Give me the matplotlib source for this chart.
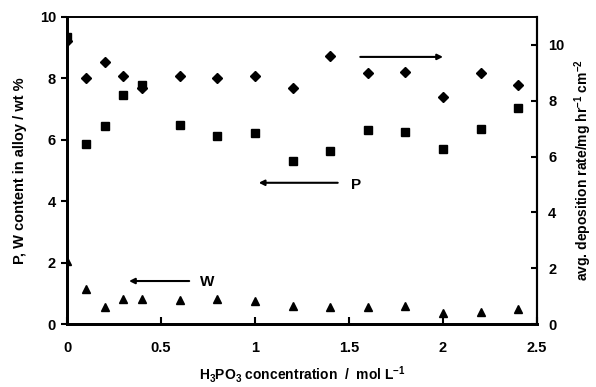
import matplotlib
matplotlib.use("Agg")
import matplotlib.pyplot as plt

plt.rcParams['font.family'] = ['Liberation Sans', 'DejaVu Sans']
plt.rcParams['font.weight'] = 'bold'
plt.rcParams['mathtext.fontset'] = 'custom'
plt.rcParams['mathtext.rm'] = 'Liberation Sans:bold'
plt.rcParams['mathtext.it'] = 'Liberation Sans:bold'
plt.rcParams['mathtext.bf'] = 'Liberation Sans:bold'

conc = [0, 0.1, 0.2, 0.3, 0.4, 0.6, 0.8, 1.0, 1.2, 1.4, 1.6, 1.8, 2.0, 2.2, 2.4]
p_content = [9.35, 5.86, 6.45, 7.45, 7.78, 6.48, 6.13, 6.22, 5.31, 5.63, 6.32, 6.27, 5.70, 6.35, 7.05]
w_content = [2.05, 1.14, 0.55, 0.81, 0.80, 0.78, 0.83, 0.75, 0.58, 0.55, 0.57, 0.59, 0.37, 0.38, 0.48]
dep_rate = [10.15, 8.83, 9.37, 8.90, 8.47, 8.90, 8.80, 8.87, 8.47, 9.62, 9.01, 9.03, 8.15, 8.98, 8.55]

xticks = [0, 0.5, 1, 1.5, 2, 2.5]
xtick_labels = ['0', '0.5', '1', '1.5', '2', '2.5']
left_ticks = [0, 2, 4, 6, 8, 10]
right_ticks = [0, 2, 4, 6, 8, 10]

fig = plt.figure(figsize=(5.96, 3.87), dpi=100)
ax = fig.add_axes([67/596, 1-324/387, (537-67)/596, (324-17)/387])
ax2 = ax.twinx()

ax.plot(conc, p_content, 's', color='black', markersize=6, zorder=3)
ax.plot(conc, w_content, '^', color='black', markersize=6, zorder=3)
ax2.plot(conc, dep_rate, 'D', color='black', markersize=4.8, zorder=3)

ax.set_xlim(0, 2.5)
ax.set_ylim(0, 10)
ax2.set_ylim(0, 11)
ax.set_xticks(xticks)
ax.set_xticklabels(xtick_labels)
ax.set_yticks(left_ticks)
ax2.set_yticks(right_ticks)

for a in (ax, ax2):
    a.tick_params(labelsize=10.5)
    for lab in a.get_xticklabels() + a.get_yticklabels():
        lab.set_fontweight('bold')

ax.tick_params(axis='x', direction='in', length=5, width=1.5, pad=12)
ax.tick_params(axis='y', direction='out', length=4, width=1.5, pad=4)
ax2.tick_params(axis='y', direction='in', length=4, width=1.5, pad=8)

for a in (ax, ax2):
    a.spines['left'].set_linewidth(2)
    a.spines['bottom'].set_linewidth(2)
    a.spines['top'].set_linewidth(1.2)
    a.spines['right'].set_linewidth(1.5)

ax.set_xlabel('H$_3$PO$_3$ concentration  /  mol L$^{\\mathrm{-1}}$', fontsize=10, fontweight='bold', labelpad=7)
ax.set_ylabel('P, W content in alloy / wt %', fontsize=10.5, fontweight='bold', labelpad=9)
ax2.set_ylabel('avg. deposition rate/mg hr$^{-1}$ cm$^{-2}$', fontsize=10, fontweight='bold', labelpad=6)

arrow = dict(arrowstyle='-|>', color='black', lw=1.5, mutation_scale=8, shrinkA=0, shrinkB=0)
ax.annotate('', xy=(2.0, 8.7), xytext=(1.56, 8.7), arrowprops=arrow)
ax.annotate('', xy=(1.02, 4.6), xytext=(1.44, 4.6), arrowprops=arrow)
ax.annotate('', xy=(0.33, 1.4), xytext=(0.65, 1.4), arrowprops=arrow)
ax.text(1.54, 4.52, 'P', fontsize=11, fontweight='bold', ha='center', va='center')
ax.text(0.745, 1.38, 'W', fontsize=11, fontweight='bold', ha='center', va='center')

fig.savefig('out.png', dpi=100)
